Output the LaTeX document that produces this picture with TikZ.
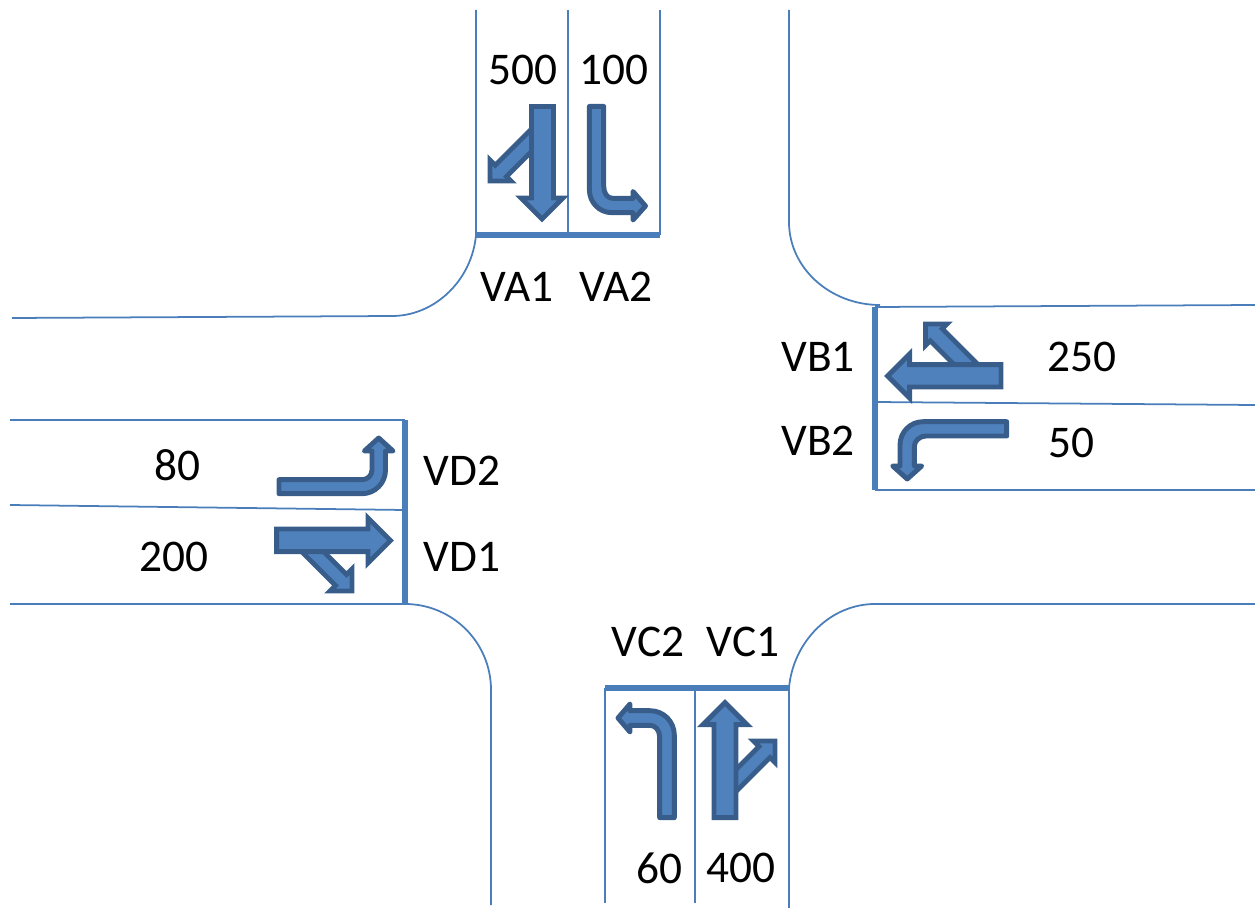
\documentclass[tikz,border=0pt]{standalone}
\usepackage{fontspec}
\setmainfont{Carlito}
\usepackage{xcolor}
\definecolor{roadblue}{HTML}{4A7EBB}
\definecolor{arrowfill}{HTML}{4F81BD}
\definecolor{arrowedge}{HTML}{385D8A}
\begin{document}
\begin{tikzpicture}[x=0.02cm, y=-0.02cm,
    road/.style={draw=roadblue, line width=1pt},
    stopline/.style={draw=roadblue, line width=2.9pt},
    flatarrow/.style={fill=arrowfill, draw=arrowedge, line width=2.8pt, miter limit=10},
    bentarrow/.style={fill=arrowfill, draw=arrowedge, line width=2.8pt, line join=round},
    label/.style={font=\fontsize{25.8}{28}\selectfont, inner sep=0pt}]
  \useasboundingbox (0,0) rectangle (1255,909);
  %% North approach
  \draw[road] (476,10) -- (476,235) .. controls (472,280) and (435,316) .. (392,316) -- (12,318);
  \draw[road] (568,10) -- (568,235);
  \draw[road] (660,10) -- (660,235);
  \draw[road] (789,10) -- (789,222) .. controls (789,268) and (830,305) .. (880,305);
  \draw[stopline] (476,235) -- (660,235);
  %% East approach
  \draw[road] (875,307) -- (1255,305);
  \draw[road] (875,402) -- (1255,405);
  \draw[road] (875,490) -- (1255,490);
  \draw[stopline] (875,307) -- (875,490);
  %% West approach
  \draw[road] (10,420) -- (405,420);
  \draw[road] (10,505) -- (405,510);
  \draw[road] (10,604) -- (405,604) .. controls (452,604) and (491,642) .. (491,690) -- (491,905);
  \draw[stopline] (405,420) -- (405,604);
  %% South approach
  \draw[road] (605,688) -- (605,903);
  \draw[road] (695,688) -- (695,903);
  \draw[road] (789,688) -- (789,908);
  \draw[road] (789,688) .. controls (793,642) and (830,604) .. (875,604) -- (1255,604);
  \draw[stopline] (605,688) -- (789,688);
  %% Arrows of VA1 and VA2
  \draw[flatarrow] (540,120.5) -- (495.25,165.25) -- (490,160) -- (490,181) -- (511,181) -- (506.5,176.5) -- (540,143) -- cycle;
  \draw[flatarrow] (531.5,106.5) -- (553.5,106.5) -- (553.5,198) -- (563,198) -- (542,219) -- (521,198) -- (531.5,198) -- cycle;
  \draw[bentarrow] (589.4,106.4) -- (603.7,106.4) -- (603.7,186) .. controls (603.7,193) and (607,198.4) .. (613,198.4)
    -- (633,198.4) -- (633,191.5) -- (645.5,206) -- (633,220) -- (633,212.7) -- (612,212.7)
    .. controls (599,212.7) and (589.4,202) .. (589.4,190) -- cycle;
  %% Arrows of VB1 and VB2
  \draw[flatarrow] (993.5,380) -- (942.25,328.75) -- (947,324) -- (925.5,324) -- (925.5,345.5) -- (930.25,340.75) -- (969.5,380) -- cycle;
  \draw[flatarrow] (1001,364.7) -- (909.6,364.7) -- (909.6,354) -- (887.6,376) -- (909.6,398) -- (909.6,387) -- (1001,387) -- cycle;
  \draw[bentarrow] (1006.7,421.7) -- (1006.7,436) -- (926,436) .. controls (919.6,436) and (914.4,441) .. (914.4,446)
    -- (914.4,466) -- (921.7,466) -- (907.2,479) -- (892.7,466) -- (900,466) -- (900,445)
    .. controls (900,432.2) and (910.2,421.7) .. (923,421.7) -- cycle;
  %% Arrows of VC1 and VC2
  \draw[flatarrow] (725,780.5) -- (759,746.5) -- (753.5,741) -- (775,741) -- (775,762.5) -- (770,757.5) -- (725,802.5) -- cycle;
  \draw[flatarrow] (714,817.7) -- (736,817.7) -- (736,724.7) -- (747,724.7) -- (725,702.7) -- (703,724.7) -- (714,724.7) -- cycle;
  \draw[bentarrow] (674.3,817.7) -- (659.7,817.7) -- (659.7,737) .. controls (659.7,730) and (655,725.3) .. (650,725.3)
    -- (630,725.3) -- (630,732) -- (618,718) -- (630,704) -- (630,710.7) -- (650,710.7)
    .. controls (663.5,710.7) and (674.3,721.5) .. (674.3,735) -- cycle;
  %% Arrows of VD1 and VD2
  \draw[bentarrow] (279,479.7) -- (279,493.7) -- (362,493.7) .. controls (375,493.7) and (385.5,483) .. (385.5,470)
    -- (385.5,451) -- (393,451) -- (378.7,438) -- (364.4,451) -- (372,451) -- (372,470)
    .. controls (372,475.5) and (367.5,479.7) .. (362,479.7) -- cycle;
  \draw[flatarrow] (312,540) -- (346.5,574.5) -- (352,569) -- (352,591) -- (330,591) -- (335.5,585.5) -- (290,540) -- cycle;
  \draw[flatarrow] (276.6,529) -- (368,529) -- (368,518) -- (390.5,540.5) -- (368,563) -- (368,551.7) -- (276.6,551.7) -- cycle;
  %% Flows and lane names
  \node[label] (flowa1) at (523,70) {500};
  \node[label] (flowa2) at (614,70) {100};
  \node[label] (namea1) at (517,287) {VA1};
  \node[label] (namea2) at (616,287) {VA2};
  \node[label] (nameb1) at (818,357) {VB1};
  \node[label] (nameb2) at (818,441) {VB2};
  \node[label] (flowb1) at (1082,357) {250};
  \node[label] (flowb2) at (1071,443) {50};
  \node[label] (flowd2) at (177,465) {80};
  \node[label] (flowd1) at (174,557) {200};
  \node[label] (named2) at (462,471) {VD2};
  \node[label] (named1) at (462,557) {VD1};
  \node[label] (namec2) at (648,642) {VC2};
  \node[label] (namec1) at (743,642) {VC1};
  \node[label] (flowc2) at (659,868) {60};
  \node[label] (flowc1) at (741,868) {400};
\end{tikzpicture}
\end{document}
